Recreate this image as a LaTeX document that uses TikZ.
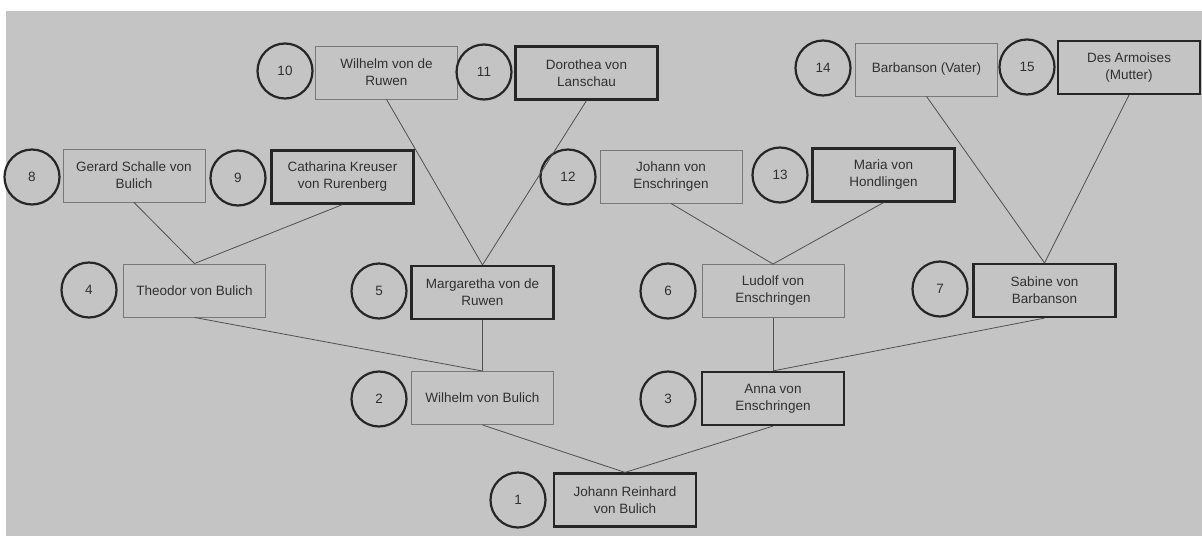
\documentclass[tikz,border=0pt]{standalone}
\usepackage{fontspec}
\setmainfont{Liberation Sans}
\definecolor{bggray}{RGB}{196,196,196}
\definecolor{txtgray}{RGB}{48,48,48}
\definecolor{rimgray}{RGB}{120,120,120}
\definecolor{linkgray}{RGB}{80,80,80}
\begin{document}
\begin{tikzpicture}[x=1pt, y=-1pt,
  font=\fontsize{13.5}{17}\selectfont, text=txtgray,
  man/.style={draw=rimgray, line width=0.9pt, minimum width=142pt, minimum height=53pt, align=center, inner sep=2pt},
  wife/.style={man, draw=black!85, line width=2.2pt},
  num/.style={circle, draw=black!85, line width=2.2pt, minimum size=55pt, inner sep=0pt},
  link/.style={linkgray, line width=0.8pt}]
  \useasboundingbox (0,0) rectangle (1202,536);
  \fill[white] (0,0) rectangle (1202,536);
  \fill[bggray] (6,11) rectangle (1202,536);
  % generation 1 and 2
  \node[num] (n1) at (518,500) {1};
  \node[wife] (p1) at (625,500) {Johann Reinhard\\von Bulich};
  \node[num] (n2) at (379,399) {2};
  \node[man] (p2) at (482.5,398) {Wilhelm von Bulich};
  \node[num] (n3) at (668,399) {3};
  \node[wife] (p3) at (773,398.5) {Anna von\\Enschringen};
  % generation 3
  \node[num] (n4) at (89,290) {4};
  \node[man] (p4) at (194.5,290.5) {Theodor von Bulich};
  \node[num] (n5) at (379,291) {5};
  \node[wife] (p5) at (482.5,292.5) {Margaretha von de\\Ruwen};
  \node[num] (n6) at (668,291) {6};
  \node[man] (p6) at (773,291) {Ludolf von\\Enschringen};
  \node[num] (n7) at (940,289) {7};
  \node[wife] (p7) at (1044.5,290.5) {Sabine von\\Barbanson};
  % generation 4
  \node[num] (n8) at (32,177) {8};
  \node[man] (p8) at (134,175.5) {Gerard Schalle von\\Bulich};
  \node[num] (n9) at (238,178) {9};
  \node[wife] (p9) at (342.5,177) {Catharina Kreuser\\von Rurenberg};
  \node[num] (n12) at (568,177) {12};
  \node[man] (p12) at (671,176.5) {Johann von\\Enschringen};
  \node[num] (n13) at (780,175) {13};
  \node[wife] (p13) at (883.5,175) {Maria von\\Hondlingen};
  % top row
  \node[num] (n10) at (285,71) {10};
  \node[man] (p10) at (386.5,72.5) {Wilhelm von de\\Ruwen};
  \node[num] (n11) at (484,72) {11};
  \node[wife] (p11) at (586.5,73) {Dorothea von\\Lanschau};
  \node[num] (n14) at (823,68) {14};
  \node[man] (p14) at (926.5,69.5) {Barbanson (Vater)};
  \node[num] (n15) at (1027,67) {15};
  \node[wife] (p15) at (1129,67.5) {Des Armoises\\(Mutter)};
  % parents to child
  \draw[link] (p2.south) -- (p1.north);
  \draw[link] (p3.south) -- (p1.north);
  \draw[link] (p4.south) -- (p2.north);
  \draw[link] (p5.south) -- (p2.north);
  \draw[link] (p6.south) -- (p3.north);
  \draw[link] (p7.south) -- (p3.north);
  \draw[link] (p8.south) -- (p4.north);
  \draw[link] (p9.south) -- (p4.north);
  \draw[link] (p10.south) -- (p5.north);
  \draw[link] (p11.south) -- (p5.north);
  \draw[link] (p12.south) -- (p6.north);
  \draw[link] (p13.south) -- (p6.north);
  \draw[link] (p14.south) -- (p7.north);
  \draw[link] (p15.south) -- (p7.north);
\end{tikzpicture}
\end{document}
